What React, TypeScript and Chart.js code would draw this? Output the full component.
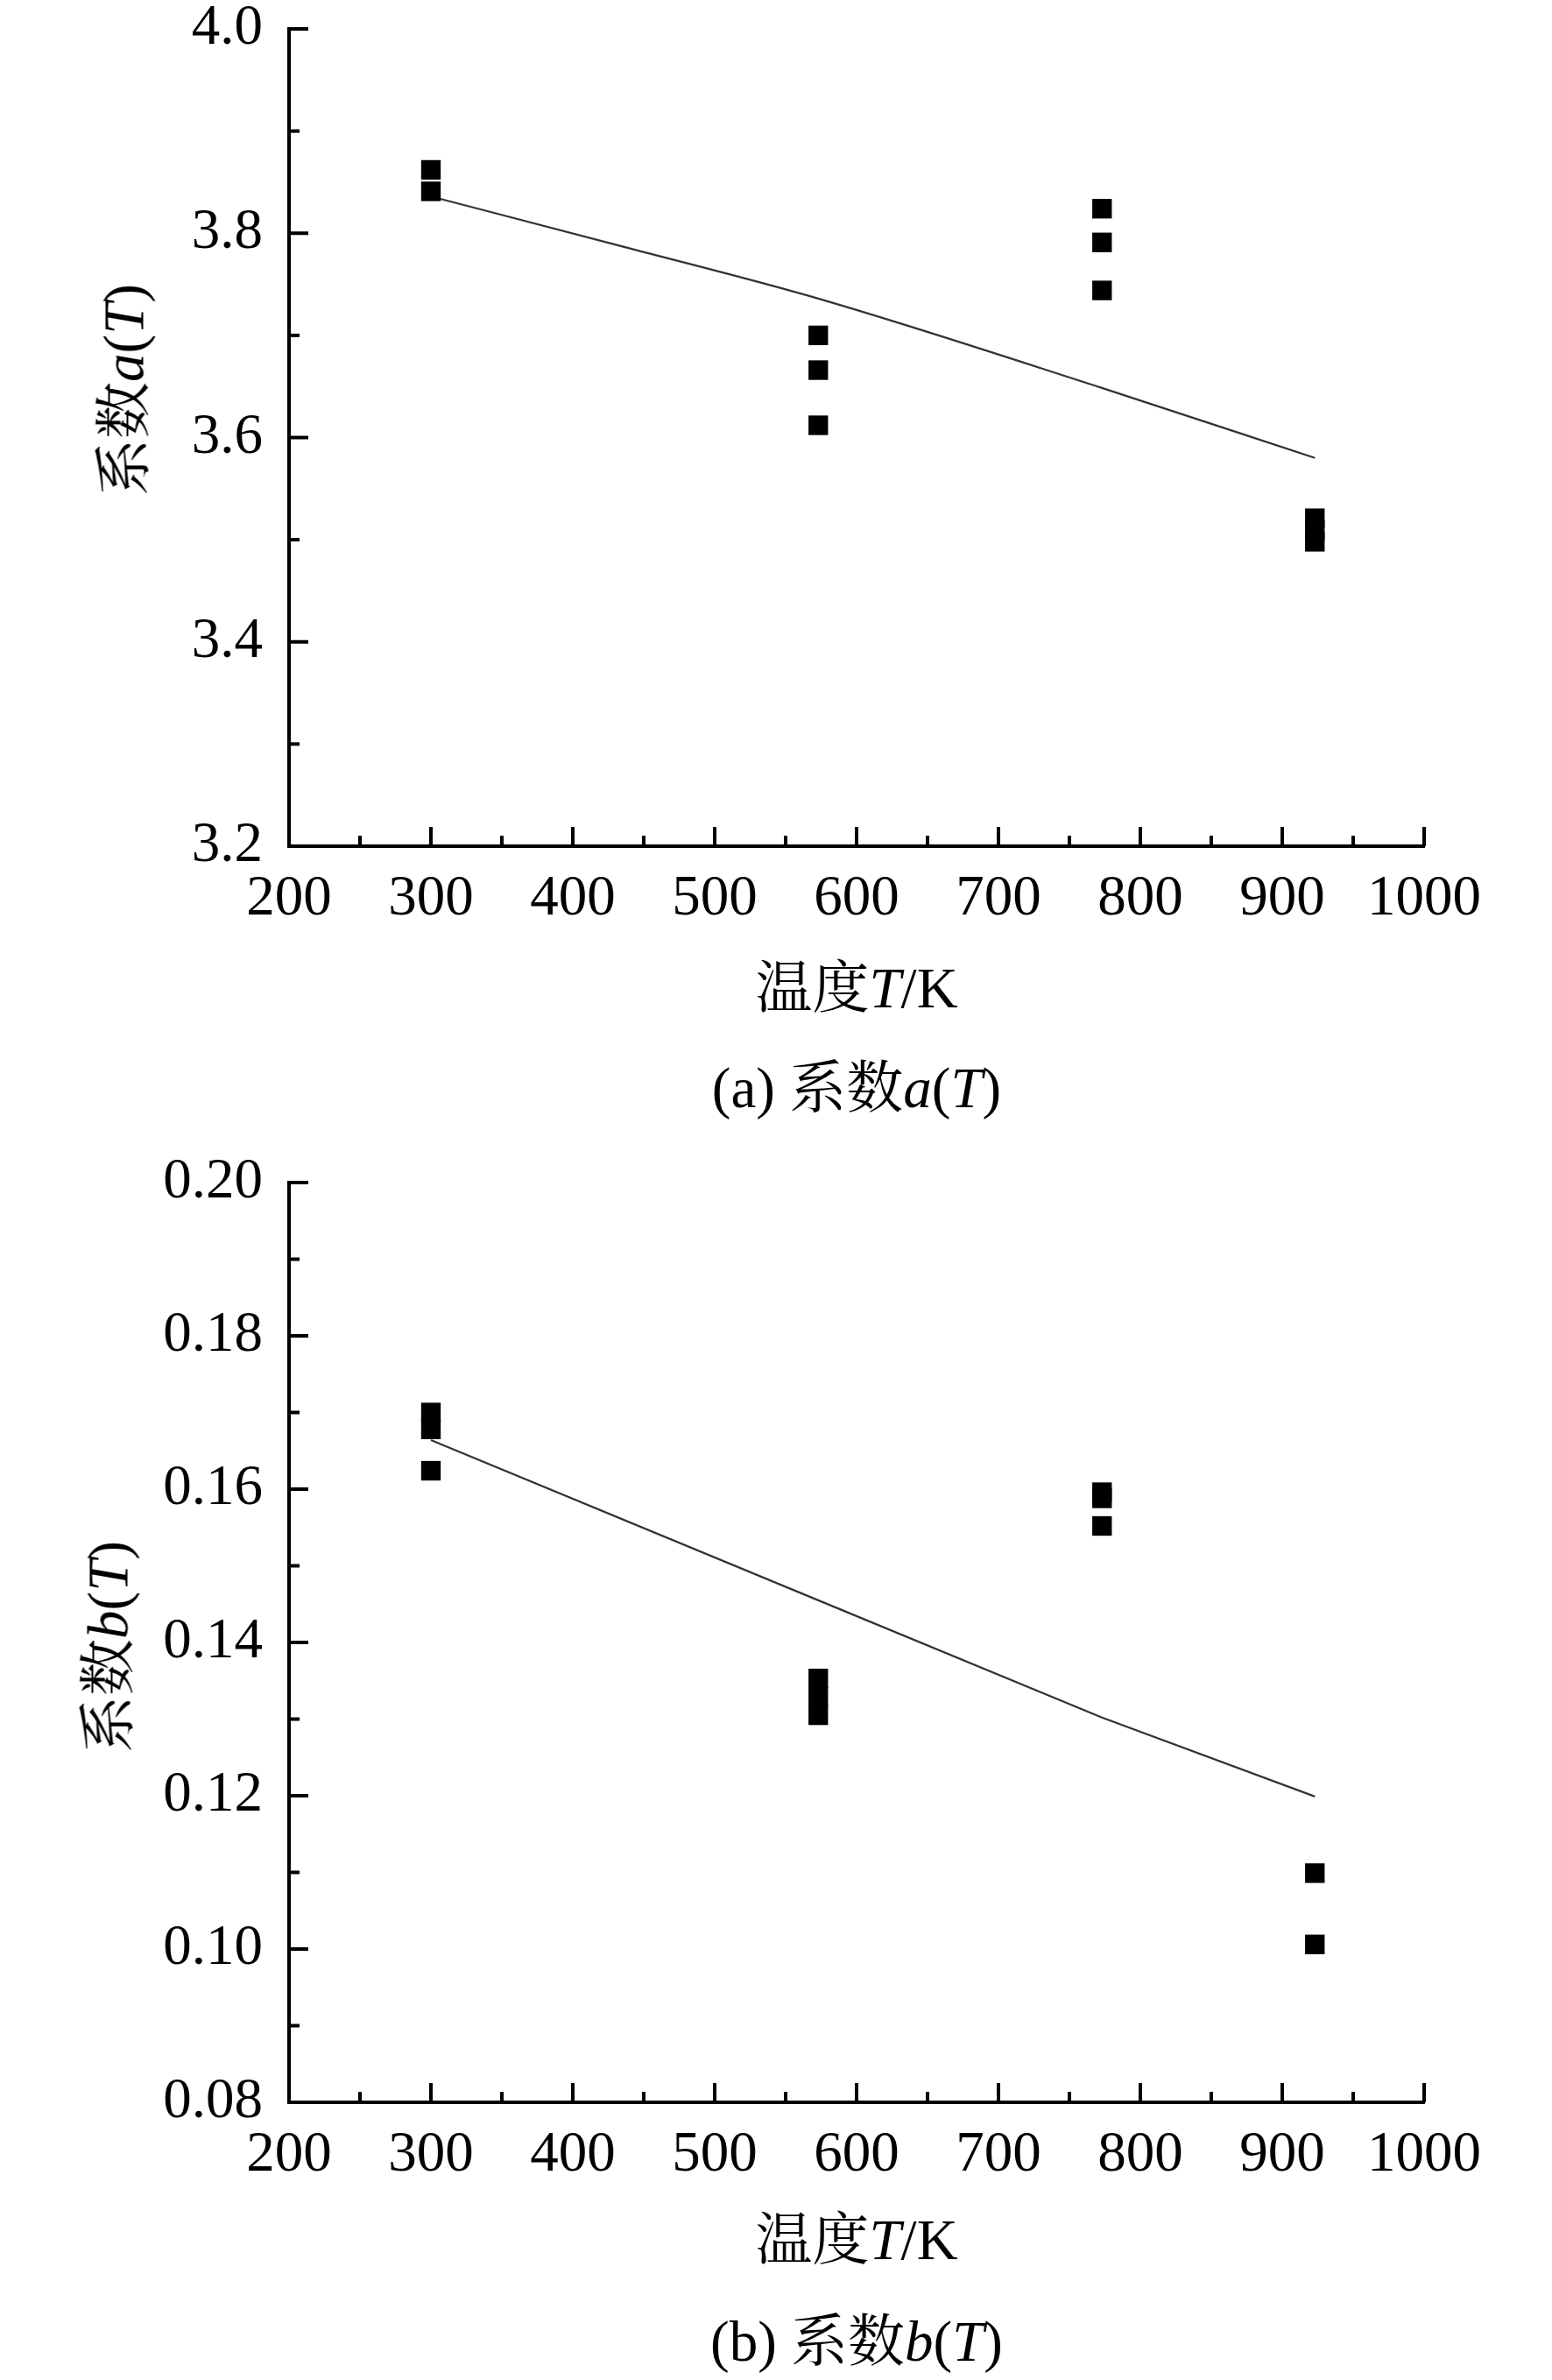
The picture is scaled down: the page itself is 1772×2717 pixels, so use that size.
import { useEffect, useRef } from 'react';
import { Chart, registerables } from 'chart.js';
import type { ChartConfiguration, Plugin } from 'chart.js';

Chart.register(...registerables);

// (a) coefficient a(T): measured points and fitted curve
const tempA = [300, 300, 573, 573, 573, 773, 773, 773, 923, 923, 923];
const coefA = [3.862, 3.841, 3.7, 3.666, 3.612, 3.824, 3.791, 3.744, 3.521, 3.509, 3.498];
const fitTempA = [300, 435, 573, 772, 923];
const fitCoefA = [3.836, 3.787, 3.736, 3.649, 3.58];

// (b) coefficient b(T)
const tempB = [300, 300, 300, 573, 573, 573, 773, 773, 773, 923, 923];
const coefB = [0.17, 0.1678, 0.1624, 0.1353, 0.1329, 0.1305, 0.1596, 0.1588, 0.1552, 0.1099, 0.1006];
const fitTempB = [300, 573, 773, 923];
const fitCoefB = [0.1664, 0.1455, 0.1302, 0.1199];

const SERIF = '"Liberation Serif", "Times New Roman", "Noto Serif CJK SC", "Noto Sans CJK SC", serif';

// Origin-style ticks: major + minor, drawn inward from the axis lines.
const inwardTicks: Plugin<'scatter'> = {
  id: 'inwardTicks',
  afterDraw(chart) {
    const { ctx, chartArea } = chart;
    const xs = chart.scales.x;
    const ys = chart.scales.y;
    ctx.save();
    ctx.strokeStyle = '#000';
    ctx.lineWidth = 4;
    const tickX = (v: number, len: number) => {
      const px = xs.getPixelForValue(v);
      ctx.beginPath();
      ctx.moveTo(px, chartArea.bottom);
      ctx.lineTo(px, chartArea.bottom - len);
      ctx.stroke();
    };
    const tickY = (v: number, len: number) => {
      const py = ys.getPixelForValue(v);
      ctx.beginPath();
      ctx.moveTo(chartArea.left, py);
      ctx.lineTo(chartArea.left + len, py);
      ctx.stroke();
    };
    const xv = xs.ticks.map((t) => t.value);
    const yv = ys.ticks.map((t) => t.value);
    xv.forEach((v, i) => {
      tickX(v, 22);
      if (i < xv.length - 1) tickX((v + xv[i + 1]) / 2, 12);
    });
    yv.forEach((v, i) => {
      tickY(v, 22);
      if (i < yv.length - 1) tickY((v + yv[i + 1]) / 2, 12);
    });
    ctx.restore();
  },
};

type PanelProps = {
  top: number;
  height: number;
  areaTop: number;
  areaBottom: number;
  temps: number[];
  coefs: number[];
  fitT: number[];
  fitC: number[];
  yMin: number;
  yMax: number;
  yStep: number;
  digits: number;
  smooth: boolean;
};

function Panel(p: PanelProps) {
  const canvasRef = useRef<HTMLCanvasElement>(null);

  useEffect(() => {
    const canvas = canvasRef.current;
    if (!canvas) return;

    const tickFont = { family: SERIF, size: 65 };
    const config: ChartConfiguration<'scatter'> = {
      type: 'scatter',
      data: {
        datasets: [
          {
            data: p.temps.map((t, i) => ({ x: t, y: p.coefs[i] })),
            pointStyle: 'rect',
            pointRadius: 15.8,
            pointBorderWidth: 0,
            backgroundColor: '#000',
            borderColor: '#000',
          },
          {
            data: p.fitT.map((t, i) => ({ x: t, y: p.fitC[i] })),
            showLine: true,
            pointRadius: 0,
            borderColor: '#333',
            borderWidth: 2.2,
            cubicInterpolationMode: p.smooth ? 'monotone' : 'default',
            tension: p.smooth ? 0.4 : 0,
          },
        ],
      },
      options: {
        animation: false,
        responsive: false,
        maintainAspectRatio: false,
        devicePixelRatio: 1,
        layout: { padding: { left: 0, right: 1772 - 1626, top: p.areaTop, bottom: 0 } },
        plugins: { legend: { display: false }, tooltip: { enabled: false } },
        scales: {
          x: {
            type: 'linear',
            min: 200,
            max: 1000,
            ticks: {
              stepSize: 100,
              font: tickFont,
              color: '#000',
              padding: 14,
              maxRotation: 0,
              callback: (v) => String(v),
            },
            grid: { display: false },
            border: { display: true, color: '#000', width: 4 },
            afterFit: (s) => {
              s.height = p.height - p.areaBottom;
            },
          },
          y: {
            type: 'linear',
            min: p.yMin,
            max: p.yMax,
            ticks: {
              stepSize: p.yStep,
              font: tickFont,
              color: '#000',
              padding: 22,
              callback: (v) => Number(v).toFixed(p.digits),
            },
            grid: { display: false },
            border: { display: true, color: '#000', width: 4 },
            afterFit: (s) => {
              s.width = 330;
            },
          },
        },
      },
      plugins: [inwardTicks],
    };

    const chart = new Chart(canvas, config);
    return () => chart.destroy();
  }, []);

  return (
    <div style={{ position: 'absolute', left: 0, top: p.top, width: 1772, height: p.height }}>
      <canvas ref={canvasRef} width={1772} height={p.height} style={{ width: 1772, height: p.height }} />
    </div>
  );
}

function Label({ x, y, size = 65, rotate = false, children }: { x: number; y: number; size?: number; rotate?: boolean; children: React.ReactNode }) {
  return (
    <div
      style={{
        position: 'absolute',
        left: x,
        top: y,
        transform: `translate(-50%, -50%)${rotate ? ' rotate(-90deg)' : ''}`,
        fontFamily: SERIF,
        fontSize: size,
        lineHeight: 1,
        whiteSpace: 'nowrap',
        color: '#000',
      }}
    >
      {children}
    </div>
  );
}

export default function App() {
  return (
    <div style={{ position: 'absolute', left: 0, top: 0, width: 1772, height: 2717, background: '#fff', overflow: 'hidden' }}>
      <Panel
        top={-40}
        height={1130}
        areaTop={73}
        areaBottom={1006}
        temps={tempA}
        coefs={coefA}
        fitT={fitTempA}
        fitC={fitCoefA}
        yMin={3.2}
        yMax={4.0}
        yStep={0.2}
        digits={1}
        smooth
      />
      <Label x={142} y={445} rotate>
        系数<i>a</i>(<i>T</i>)
      </Label>
      <Label x={978} y={1128}>
        温度<i>T</i>/K
      </Label>
      <Label x={978} y={1242}>
        (a) 系数<i>a</i>(<i>T</i>)
      </Label>

      <Panel
        top={1250}
        height={1250}
        areaTop={100}
        areaBottom={1150}
        temps={tempB}
        coefs={coefB}
        fitT={fitTempB}
        fitC={fitCoefB}
        yMin={0.08}
        yMax={0.2}
        yStep={0.02}
        digits={2}
        smooth={false}
      />
      <Label x={124} y={1880} rotate>
        系数<i>b</i>(<i>T</i>)
      </Label>
      <Label x={978} y={2557}>
        温度<i>T</i>/K
      </Label>
      <Label x={978} y={2673}>
        (b) 系数<i>b</i>(<i>T</i>)
      </Label>
    </div>
  );
}
